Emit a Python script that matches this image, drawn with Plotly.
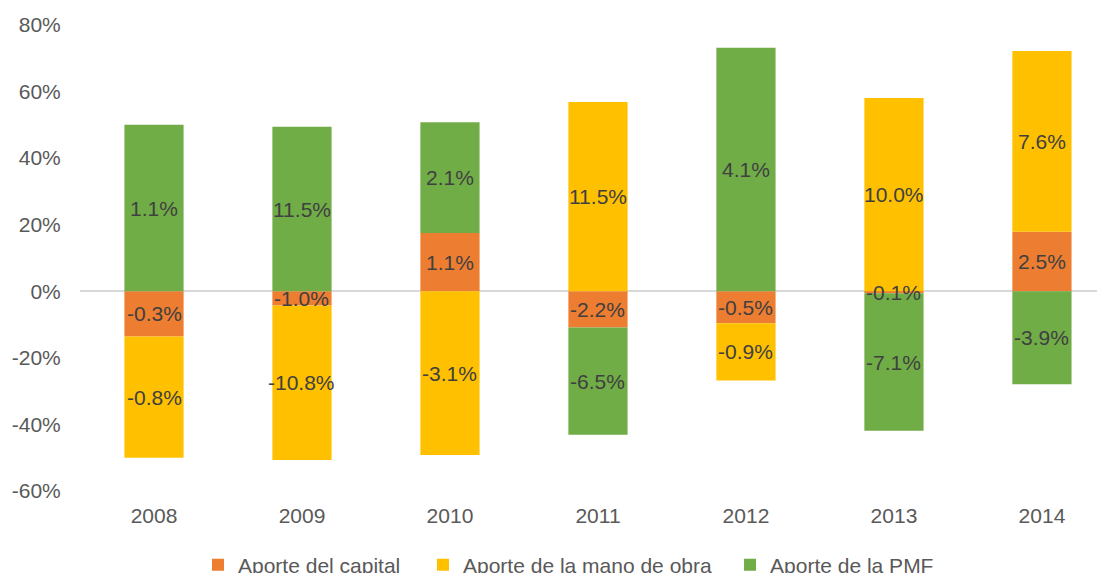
import plotly.graph_objects as go

years = ["2008", "2009", "2010", "2011", "2012", "2013", "2014"]

# Bar heights (share of total contribution, %)
capital_share = [-13.6, -4.3, 17.5, -10.9, -9.6, -0.6, 17.9]
labor_share = [-36.4, -46.4, -49.2, 56.9, -17.2, 58.1, 54.3]
pmf_share = [50.0, 49.4, 33.3, -32.2, 73.2, -41.3, -27.9]

# Data labels shown on the bars (contribution, %)
capital_label = [-0.3, -1.0, 1.1, -2.2, -0.5, -0.1, 2.5]
labor_label = [-0.8, -10.8, -3.1, 11.5, -0.9, 10.0, 7.6]
pmf_label = [1.1, 11.5, 2.1, -6.5, 4.1, -7.1, -3.9]

y_ticks = [-60, -40, -20, 0, 20, 40, 60, 80]

FONT = "Arial, 'Liberation Sans', sans-serif"
FS = 21

series = [
    ("Aporte del capital", capital_share, capital_label, "#ED7D31", "legend"),
    ("Aporte de la mano de obra", labor_share, labor_label, "#FFC000", "legend2"),
    ("Aporte de la PMF", pmf_share, pmf_label, "#70AD47", "legend3"),
]

fig = go.Figure()
for name, vals, labels, color, lg in series:
    fig.add_trace(go.Bar(
        x=years, y=vals, name=name, legend=lg,
        marker=dict(color=color, line=dict(width=0)),
    ))

# Data labels centred on each stacked segment (drawn on top of all bars)
annotations = []
pos = [0.0] * len(years)
neg = [0.0] * len(years)
for name, vals, labels, color, lg in series:
    for i, (v, lab) in enumerate(zip(vals, labels)):
        if v >= 0:
            c = pos[i] + v / 2
            pos[i] += v
        else:
            c = neg[i] + v / 2
            neg[i] += v
        annotations.append(dict(
            x=i, y=c, xref="x", yref="y",
            text=f"{lab:.1f}%", showarrow=False,
            font=dict(family=FONT, size=FS, color="#404040"),
            xanchor="center", yanchor="middle",
        ))

legend_common = dict(
    orientation="h", xref="container", yref="container",
    xanchor="left", y=0.0142, yanchor="middle",
    font=dict(family=FONT, size=FS, color="#595959"),
    bgcolor="rgba(0,0,0,0)", borderwidth=0,
)

fig.update_layout(
    annotations=annotations,
    barmode="relative",
    bargap=0.6,
    width=1097, height=565,
    margin=dict(l=72, r=0, t=17, b=82),
    paper_bgcolor="white",
    plot_bgcolor="white",
    font=dict(family=FONT, size=FS, color="#595959"),
    showlegend=True,
    legend=dict(x=0.1732, **legend_common),
    legend2=dict(x=0.3783, **legend_common),
    legend3=dict(x=0.6582, **legend_common),
    xaxis=dict(
        type="category",
        range=[-0.5, 6.426],
        showgrid=False, showline=False, zeroline=False,
        ticks="outside", ticklen=6, tickcolor="rgba(0,0,0,0)",
        tickfont=dict(family=FONT, size=FS, color="#595959"),
    ),
    yaxis=dict(
        range=[-60, 80],
        tickvals=y_ticks,
        ticktext=[f"{v}%" for v in y_ticks],
        showgrid=False, showline=False,
        zeroline=True, zerolinecolor="#D9D9D9", zerolinewidth=2,
        ticks="outside", ticklen=14, tickcolor="rgba(0,0,0,0)",
        tickfont=dict(family=FONT, size=FS, color="#595959"),
        layer="above traces",
    ),
)

fig.write_html("out.html")
